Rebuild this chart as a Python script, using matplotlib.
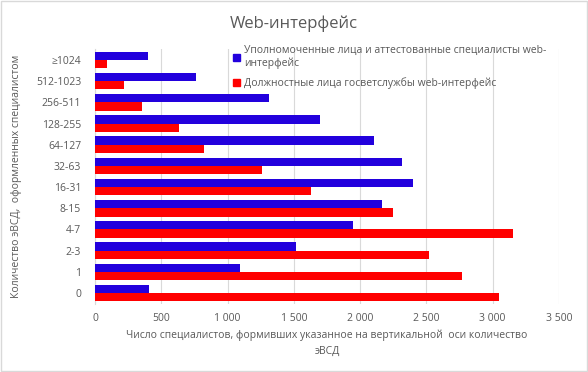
import matplotlib
matplotlib.use("Agg")
import matplotlib.pyplot as plt
import numpy as np
from matplotlib.patches import Patch

plt.rcParams["font.family"] = ["Open Sans", "DejaVu Sans"]

categories = ["0", "1", "2-3", "4-7", "8-15", "16-31", "32-63",
              "64-127", "128-255", "256-511", "512-1023", "≥1024"]
authorized = [407, 1093, 1516, 1946, 2164, 2398, 2315, 2104, 1697, 1312, 762, 397]
officials = [3047, 2768, 2519, 3152, 2247, 1629, 1259, 822, 633, 354, 219, 88]

label_auth = "Уполномоченные лица и аттестованные специалисты web-\nинтерфейс"
label_off = "Должностные лица госветслужбы web-интерфейс"

BLUE = "#2200DD"
RED = "#FF0000"
GREY = "#595959"

fig = plt.figure(figsize=(5.88, 3.72), dpi=100)
ax = fig.add_axes([0.1616, 0.184, 0.789, 0.683])

y = np.arange(len(categories))
h = 0.39
ax.barh(y + h / 2, authorized, height=h, color=BLUE, zorder=3)
ax.barh(y - h / 2, officials, height=h, color=RED, zorder=3)

ax.set_xlim(0, 3500)
ax.set_ylim(-0.5, len(categories) - 0.5)
ax.set_xticks(np.arange(0, 3501, 500))
ax.set_xticklabels([f"{v:,}".replace(",", " ") for v in range(0, 3501, 500)])
ax.set_yticks(y)
ax.set_yticklabels(categories)
ax.tick_params(axis="both", length=0, labelsize=7.5, colors=GREY)
ax.tick_params(axis="y", pad=10)
ax.tick_params(axis="x", pad=7)
ax.grid(axis="x", color="#D9D9D9", linewidth=0.8, zorder=0)
for s in ax.spines.values():
    s.set_visible(False)
ax.spines["left"].set_visible(True)
ax.spines["left"].set_color("#D9D9D9")

ax.set_xlabel("Число специалистов, формивших указанное на вертикальной  оси количество\nэВСД",
              fontsize=7.5, color=GREY, labelpad=4, linespacing=1.6)
ax.set_ylabel("Количество эВСД,  оформленных специалистом", fontsize=7.5, color=GREY, labelpad=10)

fig.text(0.5, 0.935, "Web-интерфейс", ha="center", va="center", fontsize=12, color=GREY)

handles = [Patch(color=BLUE), Patch(color=RED)]
leg = ax.legend(handles, [label_auth, label_off], loc="upper left",
                bbox_to_anchor=(0.278, 1.055), frameon=False, fontsize=7.5,
                handlelength=0.6, handleheight=0.6, handletextpad=0.4,
                labelspacing=0.8, labelcolor=GREY)

border = plt.Rectangle((0.002, 0.003), 0.996, 0.994, transform=fig.transFigure,
                       fill=False, edgecolor="#D9D9D9", linewidth=1)
fig.add_artist(border)

fig.savefig("out.png", dpi=100)
